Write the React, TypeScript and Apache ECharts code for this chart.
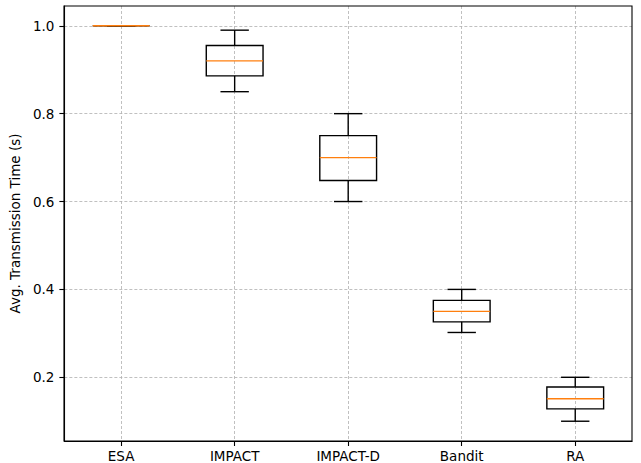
import React, { useEffect, useRef } from "react";
import * as echarts from "echarts";

const categories = ["ESA", "IMPACT", "IMPACT-D", "Bandit", "RA"];
// [whiskerLow, Q1, median, Q3, whiskerHigh]
const whiskerLow = [1.0, 0.85, 0.6, 0.302, 0.1];
const q1 = [1.0, 0.886, 0.648, 0.326, 0.128];
const median = [1.0, 0.92, 0.7, 0.35, 0.151];
const q3 = [1.0, 0.955, 0.75, 0.375, 0.178];
const whiskerHigh = [1.0, 0.99, 0.8, 0.4, 0.2];
const yTicks = [0.2, 0.4, 0.6, 0.8, 1.0];

const FONT = "DejaVu Sans";

export default function App() {
  const ref = useRef<HTMLDivElement>(null);
  useEffect(() => {
    if (!ref.current) return;
    const chart = echarts.init(ref.current, undefined, { renderer: "svg" });
    const data = categories.map((_, i) => [i, whiskerLow[i], q1[i], median[i], q3[i], whiskerHigh[i]]);
    const xIdx = categories.map((_, i) => i);
    chart.setOption({
      animation: false,
      backgroundColor: "#ffffff",
      grid: { left: 64, right: 9, top: 6, bottom: 22, containLabel: false },
      xAxis: {
        type: "value",
        min: -0.5,
        max: 4.5,
        axisLine: { show: true, onZero: false, lineStyle: { color: "#000", width: 1.1 } },
        axisTick: { show: true, length: 5, customValues: xIdx, lineStyle: { color: "#000", width: 1.1 } },
        axisLabel: {
          customValues: xIdx,
          formatter: (v: number) => categories[Math.round(v)] ?? "",
          color: "#000",
          fontFamily: FONT,
          fontSize: 13.5,
          margin: 8,
        },
        splitLine: { show: true, lineStyle: { color: "#b0b0b0", type: [3, 2], width: 0.8 } },
      },
      yAxis: {
        type: "value",
        min: 0.055,
        max: 1.045,
        name: "Avg. Transmission Time (s)",
        nameLocation: "middle",
        nameGap: 37,
        nameTextStyle: { color: "#000", fontFamily: FONT, fontSize: 13.5 },
        axisLine: { show: true, onZero: false, lineStyle: { color: "#000", width: 1.1 } },
        axisTick: { show: true, length: 5, customValues: yTicks, lineStyle: { color: "#000", width: 1.1 } },
        axisLabel: {
          customValues: yTicks,
          formatter: (v: number) => v.toFixed(1),
          color: "#000",
          fontFamily: FONT,
          fontSize: 13.5,
          margin: 10,
        },
        splitLine: { show: true, lineStyle: { color: "#b0b0b0", type: [3, 2], width: 0.8 } },
      },
      graphic: [
        {
          type: "rect",
          shape: { x: 64, y: 6, width: 568, height: 435 },
          style: { fill: "none", stroke: "#000", lineWidth: 1.1 },
          silent: true,
          z: 100,
        },
      ],
      series: [
        {
          type: "custom",
          data,
          encode: { x: 0, y: [1, 2, 3, 4, 5] },
          clip: false,
          renderItem: (params: any, api: any) => {
            const x = api.value(0);
            const pLow = api.coord([x, api.value(1)]);
            const pQ1 = api.coord([x, api.value(2)]);
            const pMed = api.coord([x, api.value(3)]);
            const pQ3 = api.coord([x, api.value(4)]);
            const pHigh = api.coord([x, api.value(5)]);
            const w = api.size([1, 0])[0] * 0.5;
            const cx = pMed[0];
            const capW = w / 2;
            const black = { stroke: "#000", lineWidth: 1.4, fill: "none" };
            return {
              type: "group",
              children: [
                { type: "line", shape: { x1: cx, y1: pQ1[1], x2: cx, y2: pLow[1] }, style: black },
                { type: "line", shape: { x1: cx, y1: pQ3[1], x2: cx, y2: pHigh[1] }, style: black },
                { type: "line", shape: { x1: cx - capW / 2, y1: pLow[1], x2: cx + capW / 2, y2: pLow[1] }, style: black },
                { type: "line", shape: { x1: cx - capW / 2, y1: pHigh[1], x2: cx + capW / 2, y2: pHigh[1] }, style: black },
                {
                  type: "rect",
                  shape: { x: cx - w / 2, y: pQ3[1], width: w, height: pQ1[1] - pQ3[1] },
                  style: black,
                },
                {
                  type: "line",
                  shape: { x1: cx - w / 2, y1: pMed[1], x2: cx + w / 2, y2: pMed[1] },
                  style: { stroke: "#ff7f0e", lineWidth: 1.4 },
                },
              ],
            };
          },
        },
      ],
    });
    return () => chart.dispose();
  }, []);
  return <div ref={ref} style={{ width: 641, height: 463, position: "absolute", left: 0, top: 0 }} />;
}
